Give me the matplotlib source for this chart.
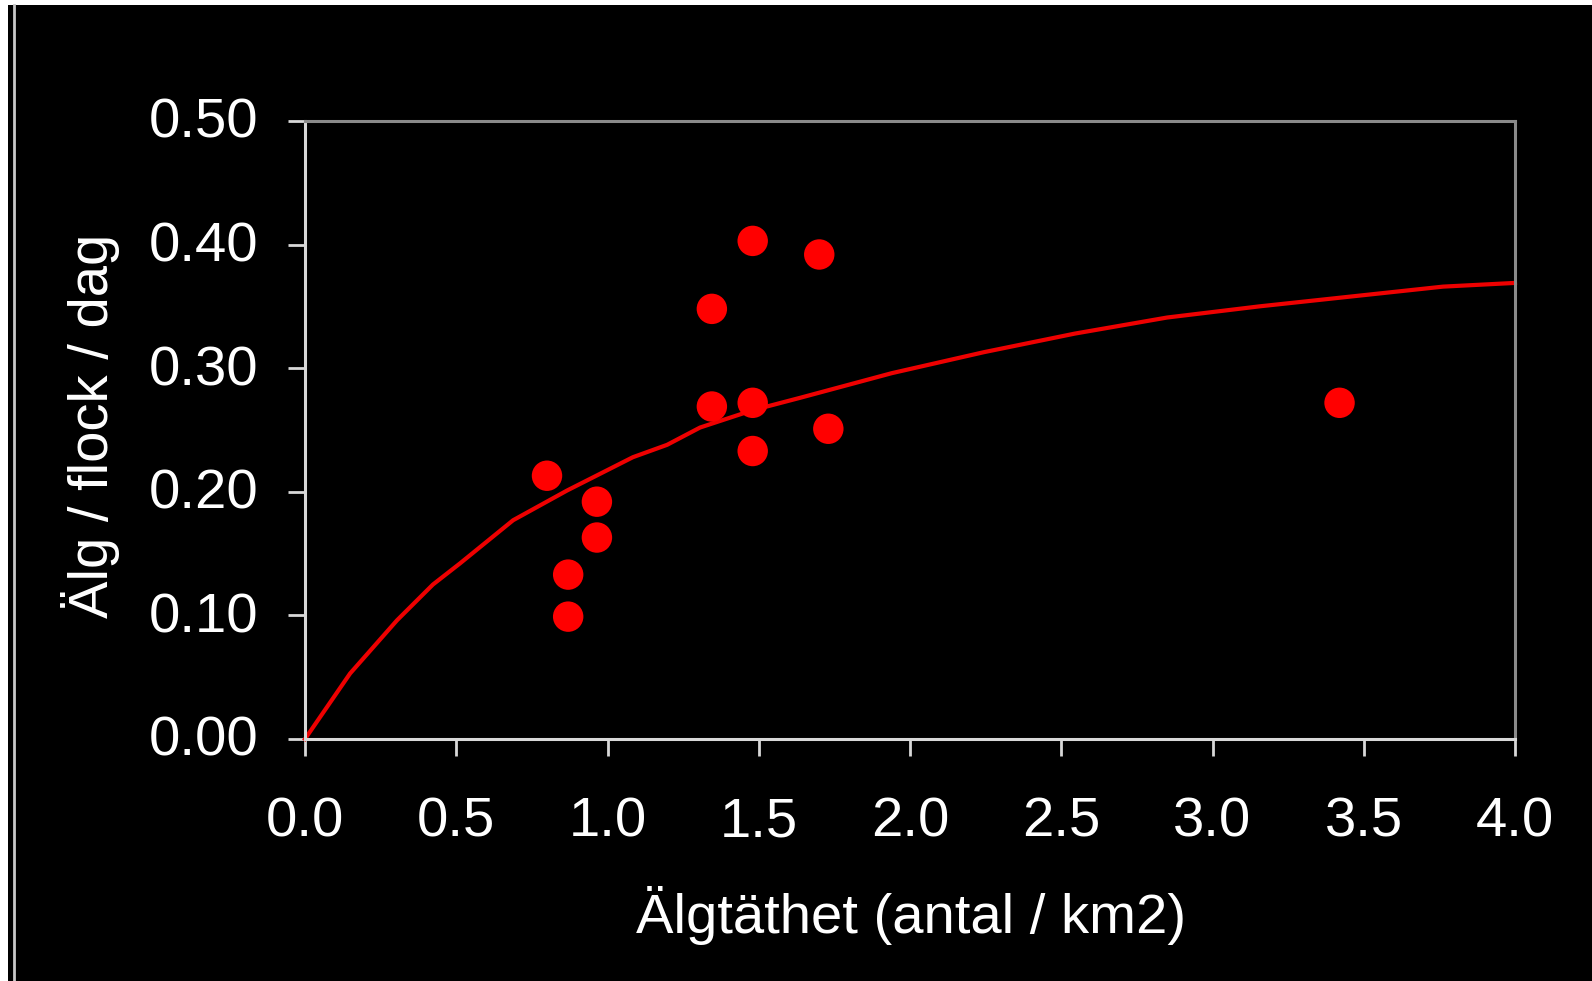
import matplotlib
matplotlib.use('Agg')
import matplotlib.pyplot as plt
from matplotlib.patches import Rectangle
from matplotlib.lines import Line2D
from matplotlib.transforms import ScaledTranslation

# Observed points
density = [1.48, 1.70, 1.345, 1.345, 1.48, 1.73, 1.48, 0.80, 0.965, 0.965, 0.87, 0.87, 3.42]
rate = [0.403, 0.392, 0.348, 0.269, 0.272, 0.251, 0.233, 0.213, 0.192, 0.163, 0.133, 0.099, 0.272]

# Fitted curve
curve_x = [0.0, 0.149, 0.304, 0.423, 0.512, 0.688, 0.866, 1.084, 1.197, 1.306, 1.48,
           1.636, 1.940, 2.245, 2.545, 2.850, 3.154, 3.458, 3.762, 4.0]
curve_y = [0.0, 0.053, 0.096, 0.125, 0.142, 0.177, 0.201, 0.228, 0.238, 0.252, 0.266,
           0.276, 0.296, 0.313, 0.328, 0.341, 0.350, 0.358, 0.366, 0.369]

x_ticks = [0.0, 0.5, 1.0, 1.5, 2.0, 2.5, 3.0, 3.5, 4.0]
x_ticklabels = ['0.0', '0.5', '1.0', '1.5', '2.0', '2.5', '3.0', '3.5', '4.0']
y_ticks = [0.0, 0.1, 0.2, 0.3, 0.4, 0.5]
y_ticklabels = ['0.00', '0.10', '0.20', '0.30', '0.40', '0.50']

x_label = 'Älgtäthet (antal / km2)'
y_label = 'Älg / flock / dag'

plt.rcParams['font.family'] = ['Liberation Sans', 'DejaVu Sans']

W, H = 1592, 981
fig = plt.figure(figsize=(W / 100, H / 100), dpi=100, facecolor='white')
fig.patches.append(Rectangle((8 / W, 0), 1, 1 - 5 / H, transform=fig.transFigure,
                             facecolor='black', edgecolor='none', zorder=-10))
fig.lines.append(Line2D([13.5 / W, 13.5 / W], [0, 1 - 5 / H], transform=fig.transFigure,
                        color='#c8c8c8', lw=2))

ax = fig.add_axes([305 / W, 1 - 739 / H, 1210 / W, 618 / H])
ax.set_facecolor('black')

ax.plot(curve_x, curve_y, color='#ee0000', lw=3.0, zorder=2, clip_on=False,
        solid_joinstyle='round')
ax.scatter(density, rate, s=480, color='#ff0000', edgecolors='none', zorder=3)

ax.set_xlim(0, 4)
ax.set_ylim(0, 0.5)
ax.set_xticks(x_ticks)
ax.set_xticklabels(x_ticklabels)
ax.set_yticks(y_ticks)
ax.set_yticklabels(y_ticklabels)

for side in ['left', 'bottom']:
    ax.spines[side].set_color('#d8d8d8')
    ax.spines[side].set_linewidth(2.2)
for side in ['top', 'right']:
    ax.spines[side].set_color('#8a8a8a')
    ax.spines[side].set_linewidth(2.2)

ax.tick_params(axis='both', colors='#d8d8d8', labelcolor='white', labelsize=40.5,
               length=12.5, width=2.0, direction='out')
ax.tick_params(axis='x', pad=29)
ax.tick_params(axis='y', pad=21)

offset = ScaledTranslation(0, 3 / 100, fig.dpi_scale_trans)
for t in ax.yaxis.get_major_ticks():
    t.label1.set_transform(t.label1.get_transform() + offset)

ax.set_xlabel(x_label, color='white', fontsize=40.5)
ax.set_ylabel(y_label, color='white', fontsize=40.5)
ax.xaxis.set_label_coords(0.501, -0.238)
ax.yaxis.set_label_coords(-0.153, 0.506)

fig.savefig('out.png', dpi=100, facecolor=fig.get_facecolor())
